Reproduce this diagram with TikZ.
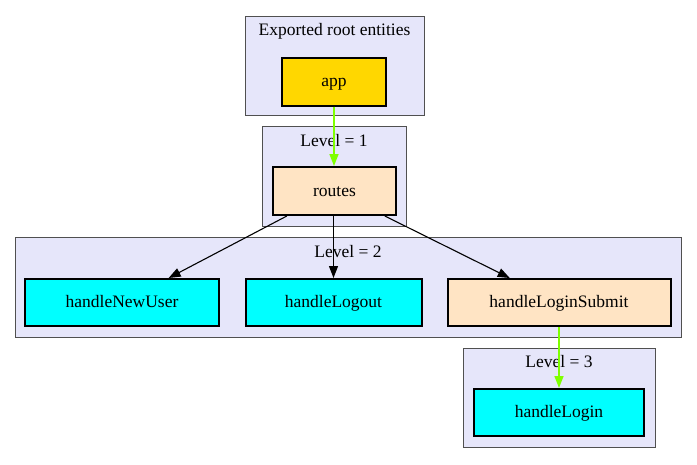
\documentclass[tikz,border=0pt]{standalone}
\usepackage{fontspec}
\setmainfont{Liberation Serif}
\usetikzlibrary{positioning, arrows.meta}

\definecolor{clusterfill}{HTML}{E6E6FA}
\definecolor{clusterline}{HTML}{505050}
\definecolor{rootfill}{HTML}{FFD700}
\definecolor{modfill}{HTML}{FFE4C4}
\definecolor{leaffill}{HTML}{00FFFF}
\definecolor{greenedge}{HTML}{7FFF00}

\tikzset{
    cluster/.style={rectangle, draw=clusterline, fill=clusterfill, line width=1pt, inner sep=0pt},
    title/.style={inner sep=0pt, text height=13pt, text depth=3pt},
    entity/.style={rectangle, draw=black, line width=2pt, minimum height=47pt, inner sep=0pt,
        text height=13pt, text depth=3pt},
    edge/.style={draw=black, line width=1.1pt, -{Triangle[length=12pt,width=9pt]}},
    greenline/.style={draw=greenedge, line width=1.5pt, -{Triangle[length=12pt,width=9pt]}}
}

\begin{document}
\begin{tikzpicture}[x=1pt, y=-1pt, font=\fontsize{17.5}{20}\selectfont]
        \useasboundingbox (0,0) rectangle (697,464);
        % clusters
        \node[cluster, minimum width=179pt, minimum height=99pt] (croot) at (334.5,65.5) {};
        \node[title] (troot) at (334.5,30.5) {Exported root entities};
        \node[cluster, minimum width=144pt, minimum height=100pt] (cone) at (334,176) {};
        \node[title] (tone) at (334,141.5) {Level = 1};
        \node[cluster, minimum width=666pt, minimum height=100pt] (ctwo) at (348,287) {};
        \node[title] (ttwo) at (348,252.5) {Level = 2};
        \node[cluster, minimum width=192pt, minimum height=99pt] (cthree) at (559,397.5) {};
        \node[title] (tthree) at (559,362.5) {Level = 3};
        % entities
        \node[entity, fill=rootfill, minimum width=104pt, minimum height=48pt] (app) at (334,81.5) {app};
        \node[entity, fill=modfill, minimum width=123pt, minimum height=48pt] (routes) at (334.5,191) {routes};
        \node[entity, fill=leaffill, minimum width=194pt] (newuser) at (122,302.5) {handleNewUser};
        \node[entity, fill=leaffill, minimum width=176pt] (logout) at (333.5,302.5) {handleLogout};
        \node[entity, fill=modfill, minimum width=223pt] (loginsubmit) at (559,302.5) {handleLoginSubmit};
        \node[entity, fill=leaffill, minimum width=170pt] (login) at (559,412.5) {handleLogin};
        % edges
        \draw[greenline] (app.south) -- (routes.north -| app.south);
        \draw[edge] (routes) -- (newuser);
        \draw[edge] (routes.south -| logout.north) -- (logout.north);
        \draw[edge] (routes) -- (loginsubmit);
        \draw[greenline] (loginsubmit.south) -- (login.north);
    \end{tikzpicture}
\end{document}
